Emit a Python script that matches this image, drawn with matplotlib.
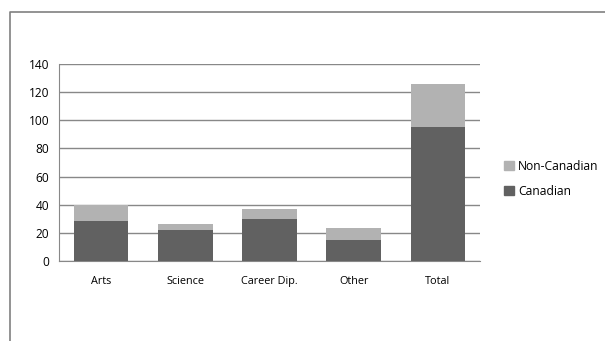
import matplotlib.pyplot as plt
from matplotlib.lines import Line2D
from matplotlib.patches import Patch
import numpy as np

categories = ["Arts", "Science", "Career Dip.", "Other", "Total"]
canadian = [28, 22, 30, 15, 95]
non_canadian = [12, 4, 7, 8, 31]

plt.rcParams["font.family"] = ["Open Sans", "DejaVu Sans"]

fig = plt.figure(figsize=(6.05, 3.41), dpi=100)
ax = fig.add_axes([0.0975, 0.2355, 0.6959, 0.576])

x = np.arange(len(categories))
width = 0.65
ax.bar(x, canadian, width, color="#616161", label="Canadian", zorder=3)
ax.bar(x, non_canadian, width, bottom=canadian, color="#b2b2b2",
       label="Non-Canadian", zorder=3)

ax.set_xlim(-0.5, len(categories) - 0.5)
ax.set_ylim(0, 140)
ax.set_yticks(np.arange(0, 141, 20))
ax.set_xticks(x)
ax.set_xticklabels(categories)
ax.yaxis.grid(True, color="#888888", linewidth=1)
ax.set_axisbelow(True)
ax.tick_params(axis="both", length=0, colors="#000000")
ax.tick_params(axis="x", pad=11, labelsize=7.8)
ax.tick_params(axis="y", pad=7, labelsize=8.6)
for side in ["top", "right"]:
    ax.spines[side].set_visible(False)
ax.spines["left"].set_color("#888888")
ax.spines["bottom"].set_color("#888888")

handles = [Patch(color="#b2b2b2"), Patch(color="#616161")]
fig.legend(handles, ["Non-Canadian", "Canadian"], loc="center left",
           bbox_to_anchor=(0.815, 0.475), frameon=False, fontsize=8.7,
           handlelength=0.8, handleheight=0.8, handletextpad=0.35,
           labelspacing=1.0)

# outer frame, open at right and bottom
W, H = 605, 341
fig.add_artist(Line2D([9.5 / W, 9.5 / W, 1.0], [0.0, 1 - 11.5 / H, 1 - 11.5 / H],
                      transform=fig.transFigure, color="#808080", linewidth=1.2))

fig.savefig("out.png", dpi=100)
